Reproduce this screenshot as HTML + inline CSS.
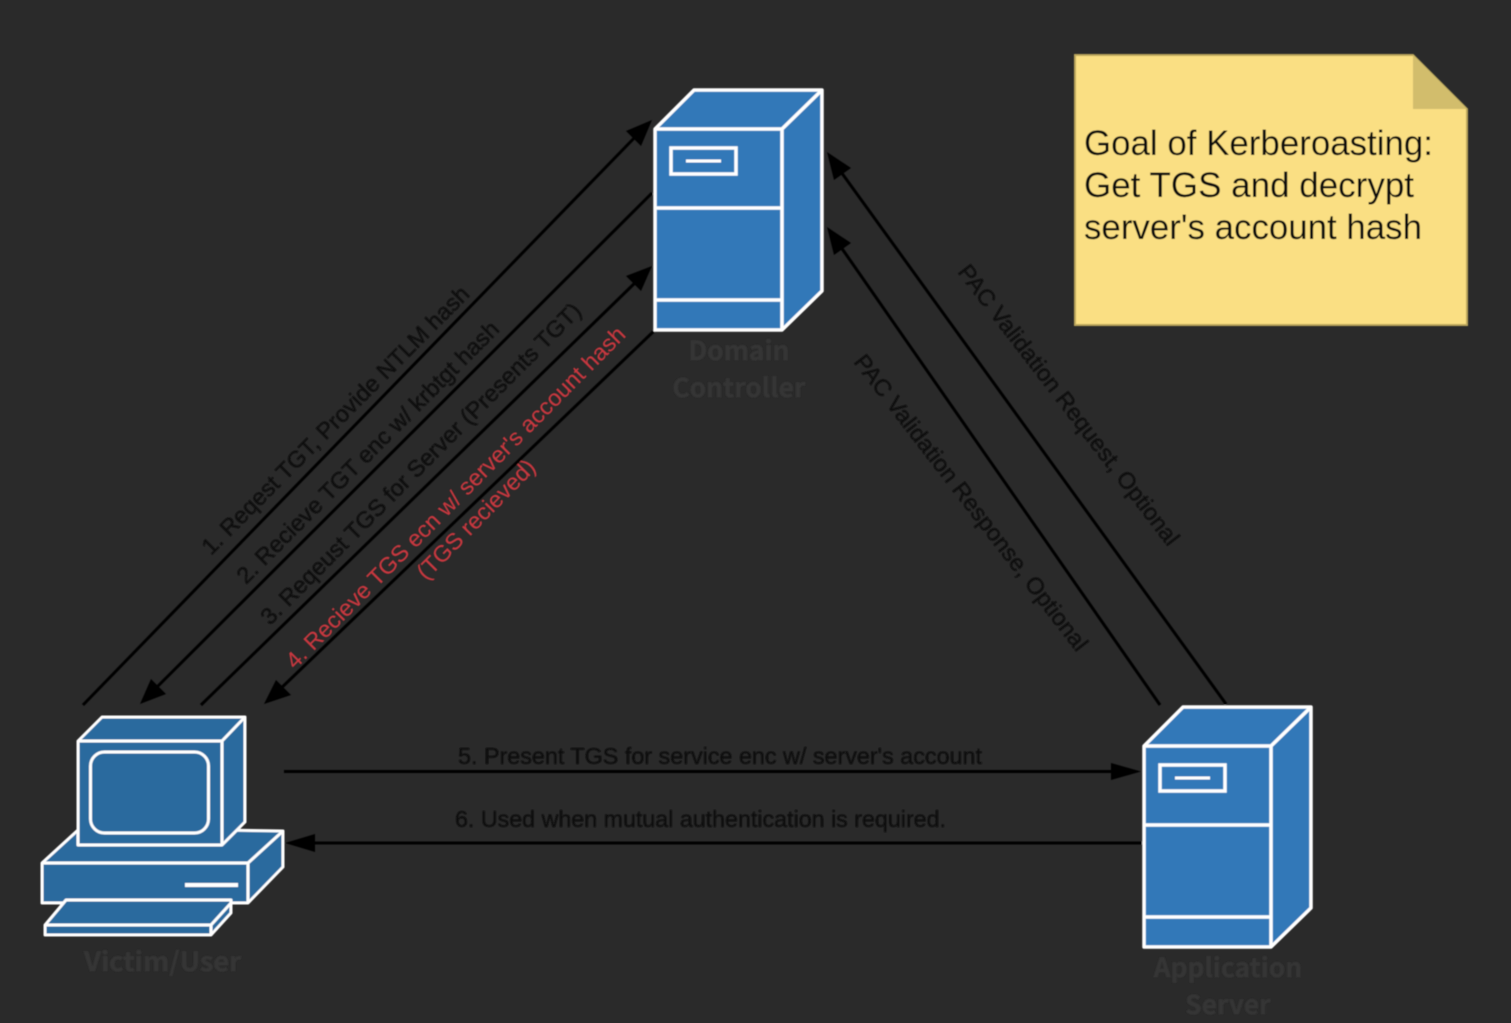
<!DOCTYPE html>
<html><head><meta charset="utf-8"><style>
html,body{margin:0;padding:0;background:#2a2a2a}
svg{display:block}
.s{font-family:"Liberation Sans",sans-serif;font-size:23px;fill:#0c0c0c;stroke:#0c0c0c;stroke-width:.25}
.r{fill:#c8393f;stroke:#c8393f;stroke-width:.15}
.l{font-family:"Noto Sans CJK SC","Liberation Sans",sans-serif;font-weight:700;font-size:26px;fill:#343434;stroke:#343434;stroke-width:.8;text-anchor:middle;letter-spacing:.2px}
.n{font-family:"Liberation Sans",sans-serif;font-size:35px;fill:#0c0c08}
</style></head><body>
<svg width="1511" height="1023" viewBox="0 0 1511 1023" xmlns="http://www.w3.org/2000/svg">
<defs>
<filter id="b" x="-5%" y="-5%" width="110%" height="110%"><feGaussianBlur stdDeviation="0.5"/></filter>
<g id="srv" fill="#3278b8" stroke="#fff" stroke-width="3.5" stroke-linejoin="round">
<path d="M0 40L39 1H167V202L127 241H0Z"/>
<path d="M0 40H127V241M127 40L167 1" fill="none"/>
<path d="M0 119H127M0 211H127" fill="none"/>
<rect x="16" y="59" width="65" height="26" stroke-linejoin="miter"/>
<path d="M31 72H66" fill="none" stroke-width="3"/>
</g>
</defs>
<rect width="1511" height="1023" fill="#2a2a2a"/>
<g filter="url(#b)">
<!-- connectors -->
<g stroke="#060606" stroke-width="3" fill="none">
<path d="M83 705L640 132"/>
<path d="M652 193L152 692"/>
<path d="M201 705L640 278"/>
<path d="M654 331L276 693"/>
<path d="M284 771.500H1120"/>
<path d="M1142 843H306"/>
<path d="M1226 704L836 165"/>
<path d="M1160 705L836 240"/>
</g>
<g fill="#060606">
<polygon points="652,120 641,146 626,131"/>
<polygon points="140,704 151,679 166,694"/>
<polygon points="652,266 641,291 626,276"/>
<polygon points="264,704 276,680 291,695"/>
<polygon points="1141,771.500 1111,763 1111,780"/>
<polygon points="285,843 315,834 315,852"/>
<polygon points="827,152 851,168 834,180"/>
<polygon points="827,227 851,243 834,255"/>
</g>
<!-- servers -->
<use href="#srv" transform="translate(655,89)"/>
<use href="#srv" transform="translate(1144,706)"/>
<!-- computer -->
<g fill="#2c6a9e" stroke="#fff" stroke-width="3" stroke-linejoin="round">
<path d="M42 863L78 830H222L283 831V867L248 903H42Z"/>
<path d="M42 863H248L283 831M248 863V903" fill="none"/>
<path d="M78 741L102 717H245V822L222 845H78Z"/>
<path d="M78 741H222V845M222 741L245 717" fill="none"/>
<rect x="90.500" y="752" width="118" height="81" rx="14"/>
<path d="M45 925L66 900H231V913L211 935H45Z"/>
<path d="M45 925H211V935M211 925L231 903" fill="none"/>
<path d="M185 885H238" stroke-width="4" fill="none"/>
</g>
<!-- note -->
<path d="M1075 55H1413L1467 109V325H1075Z" fill="#fadf83" stroke="#b9a55c" stroke-width="2"/>
<path d="M1413 55L1467 109H1413Z" fill="#d2bd6c"/>
<!-- labels -->
<text class="s" transform="translate(211,556) rotate(-45.100)" textLength="368" lengthAdjust="spacingAndGlyphs">1. Reqest TGT, Provide NTLM hash</text>
<text class="s" transform="translate(246,585) rotate(-45)" textLength="360" lengthAdjust="spacingAndGlyphs">2. Recieve TGT enc w/ krbtgt hash</text>
<text class="s" transform="translate(270,626) rotate(-45.100)" textLength="443" lengthAdjust="spacingAndGlyphs">3. Reqeust TGS for Server (Presents TGT)</text>
<text class="s r" transform="translate(295,670) rotate(-45.200)" textLength="471" lengthAdjust="spacingAndGlyphs">4. Recieve TGS ecn w/ server's account hash</text>
<text class="s r" transform="translate(426,581) rotate(-45.400)" textLength="158" lengthAdjust="spacingAndGlyphs">(TGS recieved)</text>
<text class="s" x="458" y="764" textLength="524" lengthAdjust="spacingAndGlyphs">5. Present TGS for service enc w/ server's account</text>
<text class="s" x="455" y="827" textLength="491" lengthAdjust="spacingAndGlyphs">6. Used when mutual authentication is required.</text>
<text class="s" transform="translate(957,272) rotate(52.500)" textLength="347" lengthAdjust="spacingAndGlyphs">PAC Validation Request, Optional</text>
<text class="s" transform="translate(853,362) rotate(52.400)" textLength="367" lengthAdjust="spacingAndGlyphs">PAC Validation Response, Optional</text>
<text class="n" x="1084" y="155" textLength="349" lengthAdjust="spacingAndGlyphs">Goal of Kerberoasting:</text>
<text class="n" x="1084" y="197" textLength="330" lengthAdjust="spacingAndGlyphs">Get TGS and decrypt</text>
<text class="n" x="1084" y="239" textLength="338" lengthAdjust="spacingAndGlyphs">server's account hash</text>
<text class="l" x="739" y="360">Domain</text>
<text class="l" x="739" y="397">Controller</text>
<text class="l" x="84" y="971" style="text-anchor:start;letter-spacing:0" textLength="157" lengthAdjust="spacingAndGlyphs">Victim/User</text>
<text class="l" x="1228" y="977">Application</text>
<text class="l" x="1228" y="1014">Server</text>
</g>
</svg>
</body></html>
